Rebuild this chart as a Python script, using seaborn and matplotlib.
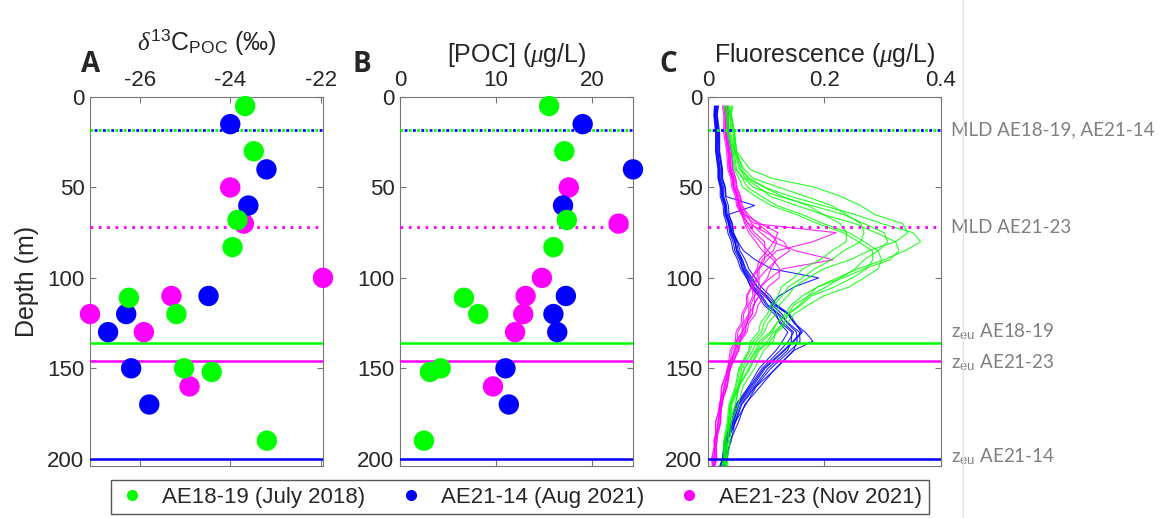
import pandas as pd
import matplotlib.pyplot as plt
import seaborn as sns
from matplotlib.lines import Line2D
from matplotlib.transforms import blended_transform_factory

# =============================
# DATA
# =============================
cruises = ["AE18-19 (July 2018)", "AE21-14 (Aug 2021)", "AE21-23 (Nov 2021)"]
colors = ["#00ff00", "#0000ff", "#ff00ff"]

green_depth = [5, 30, 68, 83, 111, 120, 150, 152, 190]
green_d13c = [-23.67, -23.48, -23.84, -23.95, -26.24, -25.19, -25.02, -24.41, -23.19]
green_poc = [15.55, 17.14, 17.4, 16.0, 6.67, 8.16, 4.24, 3.12, 2.5]

blue_depth = [15, 40, 60, 110, 120, 130, 150, 170]
blue_d13c = [-24.0, -23.2, -23.6, -24.48, -26.3, -26.7, -26.19, -25.79]
blue_poc = [19.05, 24.3, 17.0, 17.3, 16.0, 16.4, 11.0, 11.35]

pink_depth = [50, 70, 100, 110, 120, 130, 160]
pink_d13c = [-24.0, -23.7, -21.95, -25.3, -27.1, -25.91, -24.9]
pink_poc = [17.6, 22.8, 14.8, 13.1, 12.85, 12.0, 9.7]

mld = [18, 18, 72]     # green, blue, pink
zeu = [136, 200, 146]

fluor_depth = [5, 10, 20, 30, 40, 45, 50, 55, 60, 65, 70, 75, 80, 85, 90, 95,
               100, 105, 110, 115, 120, 125, 130, 135, 140, 150, 160, 170, 180, 190, 200, 205]

green_fluor = [
    [.042, .040, .046, .049, .072, .110, .185, .228, .262, .286, .334, .343, .322, .276, .244, .198,
     .172, .148, .137, .122, .117, .103, .097, .083, .077, .058, .052, .040, .036, .029, .029, .026],
    [.035, .038, .039, .046, .054, .072, .098, .142, .197, .253, .298, .352, .365, .338, .302, .257,
     .222, .188, .172, .148, .137, .118, .107, .088, .082, .063, .054, .041, .038, .032, .031, .029],
    [.030, .033, .035, .043, .047, .062, .078, .122, .178, .233, .268, .302, .309, .292, .268, .252,
     .228, .203, .173, .157, .138, .130, .113, .102, .086, .070, .053, .047, .036, .035, .031, .032],
    [.038, .039, .045, .047, .056, .064, .087, .108, .152, .198, .252, .288, .322, .328, .312, .268,
     .232, .188, .162, .143, .132, .118, .110, .093, .084, .062, .052, .038, .035, .029, .028, .025],
    [.032, .035, .037, .045, .049, .059, .068, .092, .118, .162, .198, .242, .268, .292, .298, .292,
     .268, .242, .198, .172, .148, .137, .118, .107, .088, .072, .053, .047, .037, .035, .030, .031],
    [.036, .037, .043, .046, .062, .078, .122, .168, .212, .238, .262, .268, .262, .233, .212, .183,
     .162, .138, .127, .113, .107, .096, .092, .078, .072, .055, .049, .038, .035, .029, .029, .026],
    [.028, .031, .033, .041, .045, .053, .060, .082, .108, .152, .188, .232, .258, .282, .283, .272,
     .248, .217, .178, .160, .138, .130, .116, .112, .096, .080, .060, .052, .040, .038, .033, .034],
    [.041, .040, .045, .049, .059, .068, .097, .128, .172, .198, .227, .238, .237, .213, .192, .163,
     .147, .126, .120, .108, .102, .090, .087, .073, .070, .053, .047, .036, .033, .027, .026, .023],
]

blue_fluor = [
    [.015, .013, .017, .017, .021, .021, .025, .026, .031, .032, .037, .039, .046, .049, .057, .061,
     .071, .079, .097, .113, .137, .148, .162, .148, .132, .098, .077, .053, .044, .031, .026, .021],
    [.012, .011, .014, .014, .018, .018, .022, .023, .028, .029, .035, .037, .043, .046, .054, .059,
     .069, .077, .092, .103, .122, .138, .157, .158, .142, .108, .082, .058, .047, .033, .029, .024],
    [.018, .016, .020, .020, .025, .025, .030, .031, .080, .035, .041, .043, .049, .052, .059, .063,
     .073, .084, .102, .116, .137, .148, .167, .180, .148, .117, .083, .065, .046, .040, .029, .028],
    [.014, .012, .016, .016, .020, .020, .024, .025, .030, .031, .037, .041, .051, .061, .081, .109,
     .190, .148, .122, .108, .117, .123, .137, .128, .117, .088, .070, .048, .040, .028, .025, .020],
    [.016, .014, .018, .019, .023, .023, .027, .027, .032, .033, .039, .041, .047, .049, .056, .059,
     .067, .073, .087, .096, .114, .126, .144, .143, .137, .103, .080, .056, .046, .033, .029, .025],
    [.011, .010, .013, .013, .017, .017, .021, .021, .026, .027, .032, .034, .040, .043, .051, .056,
     .066, .074, .090, .100, .120, .130, .147, .138, .124, .093, .072, .050, .042, .029, .025, .019],
    [.017, .015, .019, .019, .024, .024, .029, .030, .035, .036, .042, .044, .051, .055, .064, .070,
     .081, .091, .107, .118, .140, .150, .160, .146, .130, .096, .074, .052, .043, .030, .027, .022],
    [.013, .012, .015, .015, .019, .019, .023, .024, .029, .030, .036, .039, .046, .050, .059, .065,
     .076, .085, .100, .110, .127, .136, .152, .153, .147, .116, .090, .063, .052, .038, .033, .028],
]

pink_fluor = [
    [.030, .032, .032, .037, .039, .044, .045, .051, .054, .061, .080, .220, .180, .118, .102, .088,
     .087, .078, .080, .073, .072, .063, .060, .050, .048, .034, .030, .020, .019, .011, .012, .008],
    [.025, .027, .027, .032, .034, .039, .041, .047, .049, .057, .070, .100, .130, .140, .118, .102,
     .088, .087, .080, .080, .070, .068, .058, .055, .045, .039, .027, .025, .016, .016, .009, .011],
    [.033, .035, .035, .040, .042, .047, .049, .055, .057, .066, .075, .090, .110, .150, .215, .128,
     .107, .090, .087, .078, .076, .066, .063, .053, .050, .036, .032, .022, .021, .013, .014, .010],
    [.028, .030, .030, .035, .037, .042, .044, .050, .052, .059, .065, .075, .090, .103, .117, .108,
     .102, .090, .088, .078, .076, .066, .064, .054, .052, .038, .033, .023, .022, .014, .015, .011],
    [.031, .033, .033, .038, .040, .045, .047, .053, .055, .063, .090, .120, .113, .102, .088, .084,
     .075, .075, .068, .069, .061, .060, .051, .050, .041, .036, .024, .022, .013, .013, .006, .008],
    [.027, .029, .029, .034, .036, .041, .043, .049, .051, .058, .063, .070, .082, .093, .112, .123,
     .122, .103, .097, .086, .082, .070, .067, .056, .053, .038, .033, .022, .021, .013, .014, .010],
    [.034, .035, .035, .041, .043, .048, .050, .056, .059, .069, .085, .105, .118, .112, .093, .087,
     .076, .074, .066, .066, .058, .057, .048, .047, .038, .034, .023, .021, .013, .014, .007, .009],
    [.029, .031, .031, .036, .038, .043, .045, .051, .053, .061, .068, .080, .097, .098, .097, .086,
     .084, .076, .077, .070, .070, .060, .058, .048, .046, .033, .029, .019, .018, .010, .012, .008],
]

# =============================
# TABLES
# =============================
palette = dict(zip(cruises, colors))

pts = pd.concat([
    pd.DataFrame({"cruise": cruises[2], "depth": pink_depth, "d13c": pink_d13c, "poc": pink_poc}),
    pd.DataFrame({"cruise": cruises[1], "depth": blue_depth, "d13c": blue_d13c, "poc": blue_poc}),
    pd.DataFrame({"cruise": cruises[0], "depth": green_depth, "d13c": green_d13c, "poc": green_poc}),
], ignore_index=True)

rows = []
for cruise, profiles in [(cruises[1], blue_fluor), (cruises[2], pink_fluor), (cruises[0], green_fluor)]:
    for i, prof in enumerate(profiles):
        for d, v in zip(fluor_depth, prof):
            rows.append({"cruise": cruise, "profile": f"{cruise}-{i}", "depth": d, "fluor": v})
fluor = pd.DataFrame(rows)

# =============================
# FIGURE
# =============================
sns.set_theme(style="white")
plt.rcParams["font.family"] = ["Liberation Sans", "DejaVu Sans"]
plt.rcParams["mathtext.fontset"] = "custom"
plt.rcParams["mathtext.it"] = "Liberation Serif:italic"
plt.rcParams["mathtext.rm"] = "Liberation Sans"

fig = plt.figure(figsize=(11.62, 5.18), dpi=100)
W, H = 1162, 518
bottom, height = (H - 466) / H, (466 - 97) / H
axA = fig.add_axes([90 / W, bottom, 233 / W, height])
axB = fig.add_axes([400 / W, bottom, 233 / W, height])
axC = fig.add_axes([708 / W, bottom, 233 / W, height])

sns.scatterplot(data=pts, x="d13c", y="depth", hue="cruise", palette=palette,
                s=215, linewidth=0, legend=False, ax=axA, zorder=4, clip_on=False)
sns.scatterplot(data=pts, x="poc", y="depth", hue="cruise", palette=palette,
                s=215, linewidth=0, legend=False, ax=axB, zorder=4, clip_on=False)
sns.lineplot(data=fluor, x="fluor", y="depth", hue="cruise", units="profile", estimator=None,
             sort=False, orient="y", palette=palette, linewidth=0.8, alpha=0.85,
             legend=False, ax=axC, zorder=2)

for ax in [axA, axB, axC]:
    ax.axhline(mld[0], color=colors[0], ls=(0, (1, 2)), lw=2, zorder=3)
    ax.axhline(mld[1], color=colors[1], ls=(1.5, (1, 2)), lw=2, zorder=3)
    ax.axhline(mld[2], color=colors[2], ls=(0, (1, 2)), lw=2, zorder=3)
    ax.axhline(zeu[0], color=colors[0], lw=1.8, zorder=3)
    ax.axhline(zeu[2], color=colors[2], lw=1.8, zorder=3)
    ax.axhline(zeu[1], color=colors[1], lw=1.8, zorder=3)

    ax.set_ylim(204, 0)
    ax.set_yticks([0, 50, 100, 150, 200])
    ax.xaxis.tick_top()
    ax.xaxis.set_label_position("top")
    ax.tick_params(axis="both", which="both", direction="in", length=4, width=0.8,
                   top=True, bottom=True, left=True, right=True,
                   labelsize=16, labelcolor="#262626", color="#777777", pad=4)
    for sp in ax.spines.values():
        sp.set_color("#777777")
        sp.set_linewidth(0.8)
    ax.set_ylabel("")

axA.set_xlim(-27.1, -21.95)
axA.set_xticks([-26, -24, -22])
axB.set_xlim(0, 24.3)
axB.set_xticks([0, 10, 20])
axC.set_xlim(0, 0.4)
axC.set_xticks([0, 0.2, 0.4])
axC.set_xticklabels(["0", "0.2", "0.4"])
axA.set_xticklabels(["-26", "-24", "-22"])

axA.set_xlabel(r"$\delta^{13}$C$_{\rm POC}$ (‰)", fontsize=18, color="#262626", labelpad=15)
axB.set_xlabel(r"[POC] ($\mu$g/L)", fontsize=18, color="#262626", labelpad=6)
axC.set_xlabel(r"Fluorescence ($\mu$g/L)", fontsize=18, color="#262626", labelpad=6)
axA.set_ylabel("Depth (m)", fontsize=18, color="#262626", labelpad=6)

for ax, letter, x in [(axA, "A", 91), (axB, "B", 362), (axC, "C", 668)]:
    fig.text(x / W, 1 - 65 / H, letter, fontsize=20, fontweight="bold",
             family=["Open Sans", "DejaVu Sans"], ha="center", va="center")

# labels for MLD / euphotic depth
trans = blended_transform_factory(axC.transAxes, axC.transData)
notes = [
    (18, "MLD AE18-19, AE21-14"),
    (72, "MLD AE21-23"),
    (130, r"z$_{\rm eu}$ AE18-19"),
    (147, r"z$_{\rm eu}$ AE21-23"),
    (199, r"z$_{\rm eu}$ AE21-14"),
]
for d, txt in notes:
    axC.annotate(txt, xy=(1, d), xycoords=trans, xytext=(7, 0), textcoords="offset points",
                 ha="left", va="center", fontsize=13.5, color="#808080",
                 family=["Lato", "DejaVu Sans"], annotation_clip=False)

fig.add_artist(Line2D([963 / W, 963 / W], [0, 1], transform=fig.transFigure,
                      color="#e6e6e6", lw=1))

handles = [Line2D([], [], ls="", marker="o", markersize=8, color=c, markeredgewidth=0)
           for c in colors]
leg = fig.legend(handles, cruises, loc="center", bbox_to_anchor=(520 / W, 1 - 497 / H),
                 ncol=3, fontsize=16, frameon=True, fancybox=False, framealpha=1,
                 edgecolor="#555555", handletextpad=0.7, columnspacing=1.4,
                 borderpad=0.3, handlelength=1.3)
leg.get_frame().set_linewidth(1.0)

fig.savefig("out.png", dpi=100)
